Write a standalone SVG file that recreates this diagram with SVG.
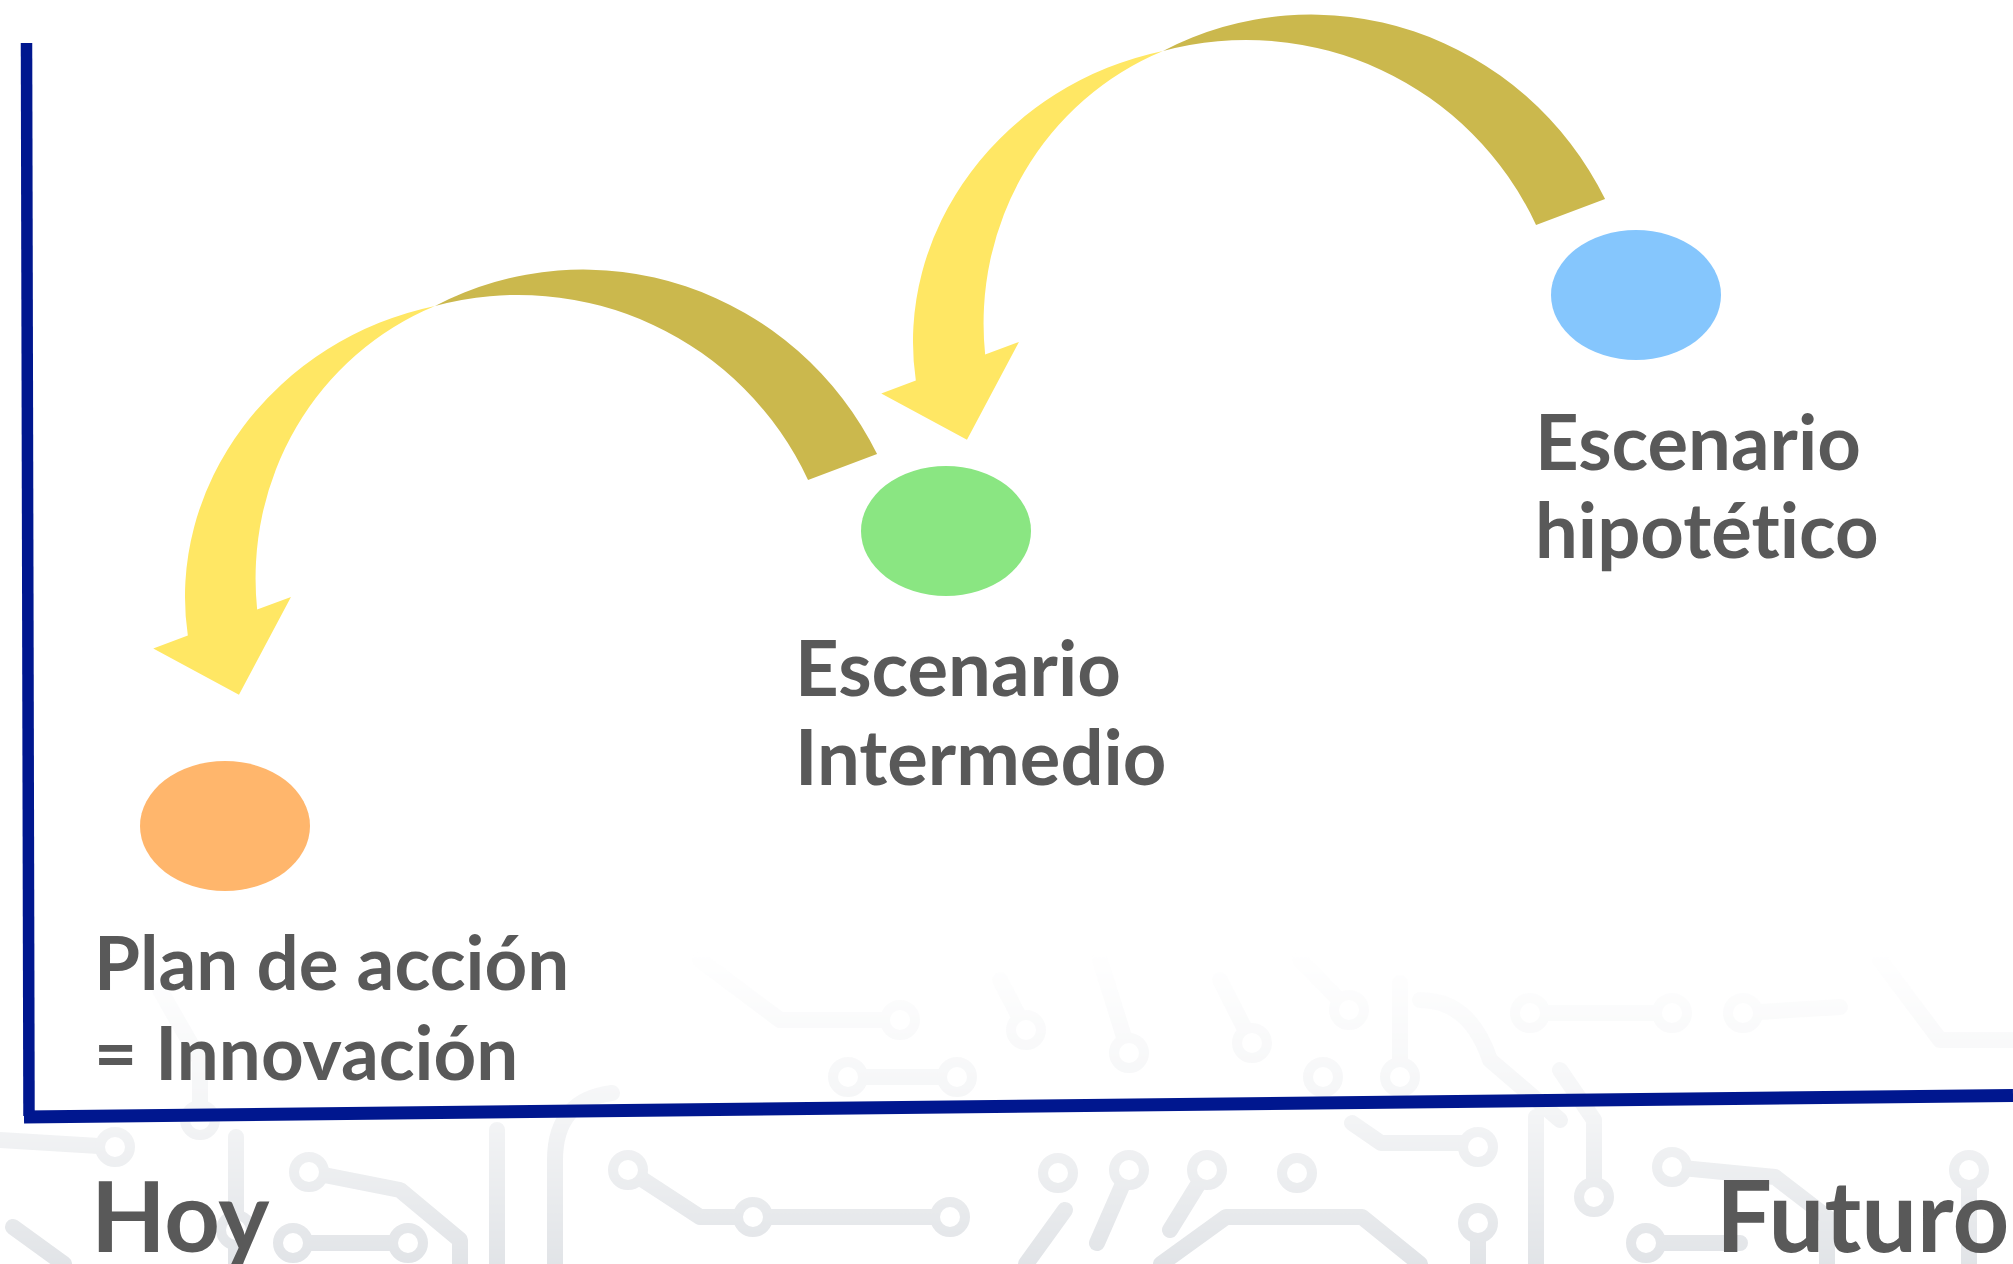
<svg xmlns="http://www.w3.org/2000/svg" xmlns:xlink="http://www.w3.org/1999/xlink" width="2013" height="1264" viewBox="0 0 2013 1264">
<style>
.lbl{font-family:Lato,"Liberation Sans",sans-serif;font-weight:700;fill:#595959;font-size:76px;font-variant-ligatures:none;font-feature-settings:"liga" 0}
.big{font-size:97px}
.axis{stroke:#00178F;fill:none}
.olive{fill:#CBB84D}
.yellow{fill:#FFE764}
.trace{fill:none;stroke:#dcdfe3;stroke-width:16;stroke-linecap:round;stroke-linejoin:round}
.pad{fill:#ffffff;stroke:#dcdfe3;stroke-width:10}
</style>
<defs>
<linearGradient id="fadeGrad" gradientUnits="userSpaceOnUse" x1="0" y1="950" x2="0" y2="1264">
<stop offset="0" stop-color="#fff" stop-opacity="0"/>
<stop offset="0.5" stop-color="#fff" stop-opacity="0.3"/>
<stop offset="1" stop-color="#fff" stop-opacity="0.85"/>
</linearGradient>
<mask id="fade" maskUnits="userSpaceOnUse" x="0" y="900" width="2013" height="364">
<rect x="0" y="900" width="2013" height="364" fill="url(#fadeGrad)"/>
</mask>
<g id="curvedArrow" transform="rotate(-20.5)">
<path class="olive" d="M662.5,732.5 A324.3,330 0 0 0 300.3,438.9 A319.7,320 0 0 1 588.8,732.5 Z"/>
<path class="yellow" d="M300.3,438.9 A303,280 0 0 0 -46.6,661 L-83.5,661 L-19.5,734.5 L63.5,661 L27.4,661 A292.4,300 0 0 1 300.3,438.9 Z"/>
</g>
</defs>
<rect x="0" y="0" width="2013" height="1264" fill="#ffffff"/>
<g id="circuit" mask="url(#fade)">
<path class="trace" d="M0,1140 L115,1147 M13,1227 L64,1264 M236,1137 L236,1264 M309,1172 L400,1190 L460,1240 L460,1264 M293,1243 L408,1243 M497,1130 L497,1264 M612,1093 Q555,1100 555,1160 L555,1264 M628,1170 L700,1217 L950,1217 M848,1077 L957,1077 M700,960 L780,1020 L900,1020 M160,990 L200,1060 L200,1120 M1530,1013 L1672,1013 M1743,1013 L1840,1007 M1400,983 L1400,1077 M1352,1123 L1381,1143 L1478,1143 M1161,1264 L1226,1217 L1362,1217 L1420,1264 M1536,1117 L1536,1264 M1672,1167 L1775,1177 L1827,1217 L1827,1264 M1646,1243 L1740,1243 M1065,1210 L1026,1264 M1129,1170 L1097,1243 M1207,1170 L1170,1230 M1478,1223 L1478,1264 M1594,1197 L1594,1120 L1560,1070 M1969,1170 L1969,1264 M1100,960 L1129,1053 M1252,1043 L1220,980 M1349,1010 L1300,960 M1880,960 L1940,1040 L2013,1040 M1026,1030 L1000,980 M1420,1000 Q1470,1000 1490,1060 L1560,1120"/>
<g class="pad">
<circle cx="115" cy="1147" r="15"/><circle cx="309" cy="1172" r="15"/><circle cx="293" cy="1243" r="15"/><circle cx="408" cy="1243" r="15"/><circle cx="628" cy="1170" r="15"/><circle cx="753" cy="1217" r="15"/><circle cx="950" cy="1217" r="15"/><circle cx="848" cy="1077" r="15"/><circle cx="957" cy="1077" r="15"/><circle cx="236" cy="1230" r="15"/><circle cx="200" cy="1120" r="15"/><circle cx="900" cy="1020" r="15"/>
<circle cx="1530" cy="1013" r="15"/><circle cx="1672" cy="1013" r="15"/><circle cx="1743" cy="1013" r="15"/><circle cx="1026" cy="1030" r="15"/><circle cx="1129" cy="1053" r="15"/><circle cx="1252" cy="1043" r="15"/><circle cx="1349" cy="1010" r="15"/><circle cx="1400" cy="1077" r="15"/><circle cx="1323" cy="1077" r="15"/><circle cx="1058" cy="1173" r="15"/><circle cx="1129" cy="1170" r="15"/><circle cx="1207" cy="1170" r="15"/><circle cx="1297" cy="1173" r="15"/><circle cx="1478" cy="1147" r="15"/><circle cx="1478" cy="1223" r="15"/><circle cx="1594" cy="1197" r="15"/><circle cx="1672" cy="1167" r="15"/><circle cx="1646" cy="1243" r="15"/><circle cx="1969" cy="1170" r="15"/>
</g>
</g>
<g id="axes">
<line class="axis" x1="26.5" y1="43" x2="29" y2="1116" stroke-width="11.5"/>
<line class="axis" x1="24" y1="1117" x2="2013" y2="1095.5" stroke-width="13"/>
<text class="lbl big" x="91" y="1252">Hoy</text>
<text class="lbl big" x="1716" y="1252" style="font-size:99px">Futuro</text>
</g>
<g id="connectors">
<use xlink:href="#curvedArrow" href="#curvedArrow"/>
<use xlink:href="#curvedArrow" href="#curvedArrow" transform="translate(728,-255)"/>
</g>
<g id="node-plan">
<ellipse cx="225" cy="826" rx="85" ry="65" fill="#FFB66C"/>
<text class="lbl" x="94" y="990" style="font-size:74.5px">Plan de acción</text>
<text class="lbl" x="94" y="1080" style="font-size:74.5px">= Innovación</text>
</g>
<g id="node-intermedio">
<ellipse cx="946" cy="531" rx="85" ry="65" fill="#8AE682"/>
<text class="lbl" x="795" y="696">Escenario</text>
<text class="lbl" x="795" y="785">Intermedio</text>
</g>
<g id="node-hipotetico">
<ellipse cx="1636" cy="295" rx="85" ry="65" fill="#85C6FD"/>
<text class="lbl" x="1535" y="470">Escenario</text>
<text class="lbl" x="1535" y="558">hipotético</text>
</g>
</svg>
